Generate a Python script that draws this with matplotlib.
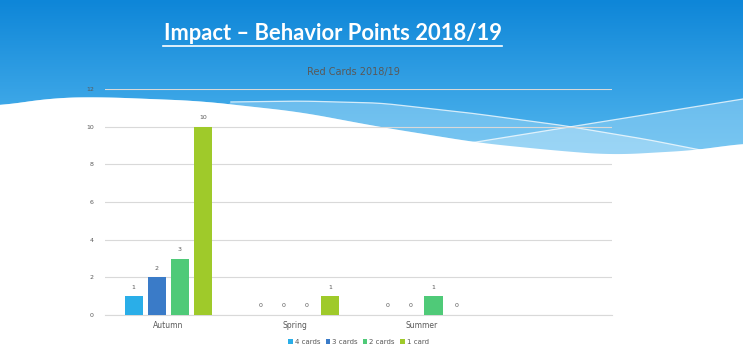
import numpy as np
import matplotlib.pyplot as plt
from matplotlib.patches import Polygon

# data
seasons = ["Autumn", "Spring", "Summer", ""]
series_names = ["4 cards", "3 cards", "2 cards", "1 card"]
four_cards = [1, 0, 0, np.nan]
three_cards = [2, 0, 0, np.nan]
two_cards = [3, 0, 1, np.nan]
one_card = [10, 1, 0, np.nan]
y_ticks = [0, 2, 4, 6, 8, 10, 12]

colors = ["#2aaee8", "#3a7bc8", "#4fca78", "#9fca2a"]
W, H = 743, 360

fig = plt.figure(figsize=(W / 100, H / 100), dpi=100)

# slide background: blue gradient with white wave (pixel coords, y down)
bg = fig.add_axes([0, 0, 1, 1], zorder=0)
bg.set_xlim(0, W)
bg.set_ylim(H, 0)
bg.axis("off")
grad = np.linspace(0, 1, 200)[:, None]
top = np.array([14, 134, 216]) / 255
bot = np.array([88, 186, 240]) / 255
img = top + (bot - top) * grad[..., None]
bg.imshow(img, extent=[0, W, 165, 0], aspect="auto", zorder=0)


def smooth_curve(px, py, xs, k=15):
    ys = np.interp(xs, px, py)
    pad = np.pad(ys, k, mode="edge")
    return np.convolve(pad, np.ones(2 * k + 1) / (2 * k + 1), mode="same")[k:-k]


xs = np.linspace(0, W, 400)
edge = smooth_curve([0, 50, 100, 200, 300, 380, 480, 560, 613, 700, 743],
                    [106, 98, 97, 101, 112, 127, 143, 151, 155, 150, 143], xs)
l1 = smooth_curve([230, 300, 380, 470, 560, 650, 710],
                  [102, 101, 103, 113, 125, 140, 152], xs, k=8)
l2 = np.interp(xs, [470, 743], [143, 99])
m1 = (xs >= 230) & (xs <= 705)
m2 = xs >= 470

# lighter bands between the lines and the white edge
upper = np.where(m2, np.minimum(np.where(m1, l1, 200), l2), np.where(m1, l1, 200))
upper = np.minimum(upper, edge)
band = np.vstack([np.column_stack([xs, upper]), np.column_stack([xs[::-1], edge[::-1] + 5])])
bg.add_patch(Polygon(band, closed=True, color="#a8dbf7", alpha=0.45, lw=0, zorder=1))
lower = np.where(m2 & m1, np.maximum(l1, l2), 200)
lower = np.minimum(lower, edge)
band2 = np.vstack([np.column_stack([xs, lower]), np.column_stack([xs[::-1], edge[::-1] + 5])])
bg.add_patch(Polygon(band2, closed=True, color="#c4e7fa", alpha=0.45, lw=0, zorder=1))

wave = np.vstack([np.column_stack([xs, edge]), [[W, H], [0, H]]])
bg.add_patch(Polygon(wave, closed=True, color="white", lw=0, zorder=2))
bg.plot(xs[m1], l1[m1], color="white", lw=0.9, alpha=0.75, zorder=3)
bg.plot(xs[m2], l2[m2], color="white", lw=0.9, alpha=0.75, zorder=3)

# title
fig.text(333 / W, 1 - 34 / H, "Impact \u2013 Behavior Points 2018/19", color="white",
         fontsize=15.8, fontweight="bold", family="Lato", ha="center", va="center", zorder=5)
bg.plot([163, 502], [46, 46], color="white", lw=1.2, zorder=5)

# chart
ax = fig.add_axes([105 / W, 1 - 315 / H, (612 - 105) / W, (315 - 89) / H], zorder=4)
ax.patch.set_alpha(0)
x = np.arange(len(seasons))
width = 0.143
step = 0.183
all_series = [four_cards, three_cards, two_cards, one_card]
for i, (vals, name) in enumerate(zip(all_series, series_names)):
    pos = x + (i - 1.5) * step
    ax.bar(pos, vals, width=width, color=colors[i], label=name, zorder=3)
    for p, v in zip(pos, vals):
        if not np.isnan(v):
            ax.text(p, v + 0.35, f"{int(v)}", ha="center", va="bottom",
                    fontsize=4.5, color="#595959")

ax.set_xlim(-0.5, len(seasons) - 0.5)
ax.set_ylim(0, 12)
ax.set_yticks(y_ticks)
ax.set_xticks(x)
ax.set_xticklabels(seasons)
ax.tick_params(axis="y", labelsize=4.5, labelcolor="#595959", length=0, pad=8)
ax.tick_params(axis="x", labelsize=5.5, labelcolor="#595959", length=0, pad=4)
ax.grid(axis="y", color="#d9d9d9", lw=0.8, zorder=0)
for s in ["top", "right", "left"]:
    ax.spines[s].set_visible(False)
ax.spines["bottom"].set_color("#d9d9d9")

fig.text(353 / W, 1 - 72 / H, "Red Cards 2018/19", ha="center", va="center",
         fontsize=7, color="#595959", zorder=5)

ax.legend(loc="center", bbox_to_anchor=(0.5, -0.12), ncol=4, frameon=False,
          fontsize=5, handlelength=0.6, handleheight=0.6, handletextpad=0.3,
          columnspacing=0.8, labelcolor="#595959")

fig.savefig("out.png", dpi=100)
